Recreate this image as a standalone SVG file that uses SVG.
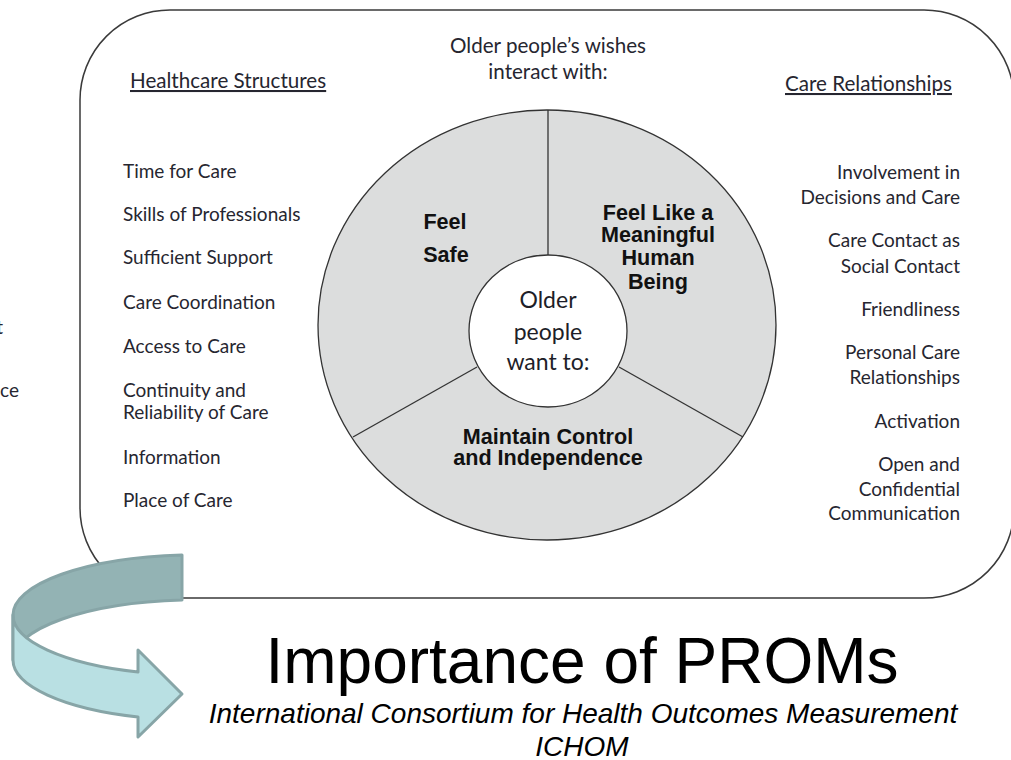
<svg xmlns="http://www.w3.org/2000/svg" width="1011" height="760" viewBox="0 0 1011 760">
  <style>
    .body { font-family: Lato, "Open Sans", sans-serif; font-size: 19px; fill: #262630; }
    .lead { font-size: 20.6px; }
    .head { text-decoration: underline; }
    .core { font-family: Lato, "Open Sans", sans-serif; font-size: 23px; fill: #1e1e28; text-anchor: middle; }
    .seg { font-family: "Liberation Sans", Arial, sans-serif; font-weight: bold; font-size: 21.6px; fill: #111; text-anchor: middle; }
    .frame { fill: #fff; stroke: #3a3a3a; stroke-width: 1.5; }
    .ring { fill: #dcdddd; stroke: #333; stroke-width: 1.3; }
    .divider { stroke: #333; stroke-width: 1.3; fill: none; }
    .title { font-family: "Liberation Sans", Arial, sans-serif; font-size: 64px; fill: #000; text-anchor: middle; }
    .sub { font-family: "Liberation Sans", Arial, sans-serif; font-style: italic; font-size: 28px; fill: #000; text-anchor: middle; }
  </style>

  <rect width="1011" height="760" fill="#fff"/>

  <!-- edge fragments of neighbouring text -->
  <text class="body" x="3" y="334" text-anchor="end">t</text>
  <text class="body" x="19" y="397" text-anchor="end">nce</text>

  <!-- outer rounded frame -->
  <g id="frame">
    <rect class="frame" x="80" y="10" width="934" height="588" rx="90" ry="90"/>
  </g>

  <!-- heading above the wheel -->
  <g id="wishes">
    <text class="body lead" x="548" y="53" text-anchor="middle">Older people’s wishes</text>
    <text class="body lead" x="548" y="79" text-anchor="middle">interact with:</text>
  </g>

  <!-- left list -->
  <g id="healthcare-structures">
    <text class="body lead head" x="130" y="88">Healthcare Structures</text>
    <text class="body" x="123" y="178">Time for Care</text>
    <text class="body" x="123" y="221">Skills of Professionals</text>
    <text class="body" x="123" y="264">Sufficient Support</text>
    <text class="body" x="123" y="309">Care Coordination</text>
    <text class="body" x="123" y="353">Access to Care</text>
    <text class="body" x="123" y="397">Continuity and</text>
    <text class="body" x="123" y="419">Reliability of Care</text>
    <text class="body" x="123" y="464">Information</text>
    <text class="body" x="123" y="507">Place of Care</text>
  </g>

  <!-- right list -->
  <g id="care-relationships">
    <text class="body lead head" x="785" y="91">Care Relationships</text>
    <g text-anchor="end">
      <text class="body" x="960" y="179">Involvement in</text>
      <text class="body" x="960" y="204">Decisions and Care</text>
      <text class="body" x="960" y="247">Care Contact as</text>
      <text class="body" x="960" y="273">Social Contact</text>
      <text class="body" x="960" y="316">Friendliness</text>
      <text class="body" x="960" y="359">Personal Care</text>
      <text class="body" x="960" y="384">Relationships</text>
      <text class="body" x="960" y="428">Activation</text>
      <text class="body" x="960" y="471">Open and</text>
      <text class="body" x="960" y="496">Confidential</text>
      <text class="body" x="960" y="520">Communication</text>
    </g>
  </g>

  <!-- wheel -->
  <g id="wheel">
    <ellipse class="ring" cx="547" cy="325" rx="229" ry="215"/>
    <g id="wheel-dividers">
      <line class="divider" x1="548" y1="110" x2="548" y2="255"/>
      <line class="divider" x1="477" y1="367" x2="353" y2="437"/>
      <line class="divider" x1="619" y1="367" x2="743" y2="437"/>
    </g>
    <ellipse cx="548" cy="331" rx="79" ry="76" fill="#fff" stroke="#333" stroke-width="1.3"/>
  </g>

  <g id="feel-safe">
    <text class="seg" x="445" y="229">Feel</text>
    <text class="seg" x="446" y="262">Safe</text>
  </g>

  <g id="feel-meaningful">
    <text class="seg" x="658" y="220">Feel Like a</text>
    <text class="seg" x="658" y="242">Meaningful</text>
    <text class="seg" x="658" y="265">Human</text>
    <text class="seg" x="658" y="289">Being</text>
  </g>

  <g id="maintain-control">
    <text class="seg" x="548" y="444">Maintain Control</text>
    <text class="seg" x="548" y="465">and Independence</text>
  </g>

  <g id="core">
    <text class="core" x="548" y="308">Older</text>
    <text class="core" x="548" y="340">people</text>
    <text class="core" x="548" y="370">want to:</text>
  </g>

  <!-- curved ribbon arrow -->
  <g id="ribbon-arrow" stroke="#87a5a7" stroke-width="3" stroke-linejoin="round">
    <path fill="#93b3b4" d="M182,555 A184.4,60.2 0 0 0 13,615 L13,660 A184.4,60.2 0 0 1 182,600 Z"/>
    <path fill="#b9e0e3" d="M13,615 A184.4,60.2 0 0 0 138,672 L138,650 L182,694 L138,737 L138,717 A184.4,60.2 0 0 1 13,660 Z"/>
  </g>

  <!-- caption -->
  <g id="caption">
    <text class="title" x="582" y="683">Importance of PROMs</text>
    <text class="sub" x="583" y="723">International Consortium for Health Outcomes Measurement</text>
    <text class="sub" x="582" y="756">ICHOM</text>
  </g>
</svg>
